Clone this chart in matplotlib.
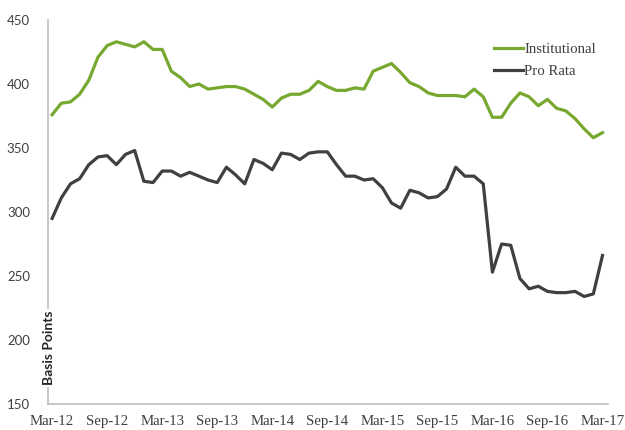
import matplotlib
matplotlib.use("Agg")
import matplotlib.pyplot as plt
import numpy as np

tick_labels = ["Mar-12", "Sep-12", "Mar-13", "Sep-13", "Mar-14", "Sep-14",
               "Mar-15", "Sep-15", "Mar-16", "Sep-16", "Mar-17"]

institutional = [376, 385, 386, 392, 403, 421, 430, 433, 431, 429,
                 433, 427, 427, 410, 405, 398, 400, 396, 397, 398,
                 398, 396, 392, 388, 382, 389, 392, 392, 395, 402,
                 398, 395, 395, 397, 396, 410, 413, 416, 409, 401,
                 398, 393, 391, 391, 391, 390, 396, 390, 374, 374,
                 385, 393, 390, 383, 388, 381, 379, 373, 365, 358,
                 362]

pro_rata = [295, 311, 322, 326, 337, 343, 344, 337, 345, 348,
            324, 323, 332, 332, 328, 331, 328, 325, 323, 335,
            329, 322, 341, 338, 333, 346, 345, 341, 346, 347,
            347, 337, 328, 328, 325, 326, 319, 307, 303, 317,
            315, 311, 312, 318, 335, 328, 328, 322, 253, 275,
            274, 248, 240, 242, 238, 237, 237, 238, 234, 236,
            266]

months = np.arange(len(institutional))
tick_pos = np.arange(0, len(institutional), 6)

plt.rcParams['font.family'] = ['Liberation Serif', 'DejaVu Serif']

fig = plt.figure(figsize=(6.25, 4.3), dpi=100)
ax = fig.add_axes([48/625, 1-404/430, (608-48)/625, (404-20)/430])

ax.plot(months, institutional, color='#77a82f', lw=2.3, label='Institutional', solid_joinstyle='round')
ax.plot(months, pro_rata, color='#404040', lw=2.3, label='Pro Rata', solid_joinstyle='round')

ax.set_xlim(-0.45, 60.6)
ax.set_ylim(150, 450)
ax.set_yticks([150, 200, 250, 300, 350, 400, 450])
ax.set_xticks(tick_pos)
ax.set_xticklabels(tick_labels, fontsize=10.7)
for lab in ax.get_yticklabels():
    lab.set_family(['Lato', 'DejaVu Sans'])
    lab.set_fontsize(9.5)

for s in ['top', 'right']:
    ax.spines[s].set_visible(False)
for s in ['left', 'bottom']:
    ax.spines[s].set_color('#bfbfbf')
    ax.spines[s].set_linewidth(1.2)

ax.tick_params(axis='both', length=0, colors='#404040')
ax.tick_params(axis='y', pad=13)
ax.tick_params(axis='x', pad=8)

fig.text(49/625, 1-348/430, 'Basis Points', rotation=90, ha='center', va='center',
         fontsize=10, fontweight='bold', color='#262626', family=['Lato', 'DejaVu Sans'],
         bbox=dict(facecolor='white', edgecolor='none', pad=1.0))

ax.legend(loc='upper left', bbox_to_anchor=(487/625, 1-35/430),
          bbox_transform=fig.transFigure, frameon=False, fontsize=10.7,
          handlelength=1.9, handletextpad=0.1, labelspacing=0.6, borderpad=0,
          labelcolor='#404040')

fig.savefig('out.png', dpi=100)
